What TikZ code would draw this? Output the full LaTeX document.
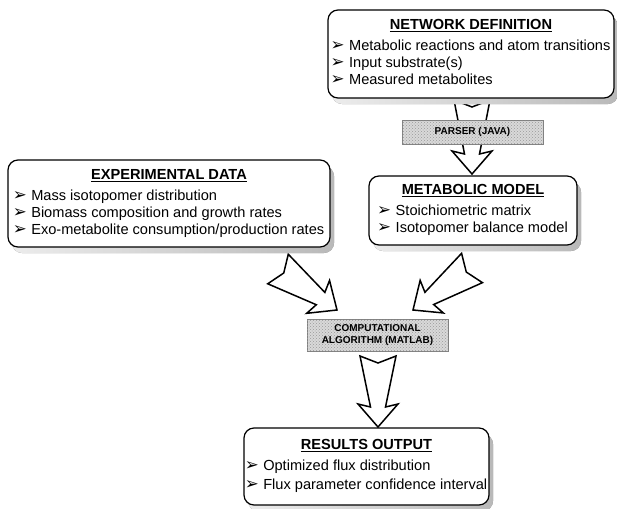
\documentclass[tikz,border=0pt]{standalone}
\usepackage{graphicx}
\usepackage{fontspec}
\setmainfont{Liberation Sans}
\newfontfamily\dingfont{DejaVu Sans}
\usetikzlibrary{calc,shadows,patterns}

\newcommand{\itm}[1]{\makebox[17.5pt][l]{\hspace{-1pt}\raisebox{0pt}{\resizebox{14pt}{!}{\dingfont ➢}}}#1}
\newcommand{\hdr}[1]{\multicolumn{1}{c}{\underline{\textbf{#1}}}\\[4pt]}
% hollow block arrow with notched tail, from #1 (tail) to #2 (tip)
\newcommand{\fatarrow}[2]{%
  \draw[fatarrow] ($(#1)!18pt!90:(#2)$) -- ($(#1)!7pt!(#2)$) -- ($(#1)!18pt!-90:(#2)$)
    -- ($($(#2)!20pt!(#1)$)!7.5pt!-90:(#2)$) -- ($($(#2)!23pt!(#1)$)!20pt!-90:(#2)$)
    -- (#2) -- ($($(#2)!23pt!(#1)$)!20pt!90:(#2)$)
    -- ($($(#2)!20pt!(#1)$)!7.5pt!90:(#2)$) -- cycle;}

\begin{document}
\begin{tikzpicture}[x=1pt,y=-1pt,
        panel/.style={draw, line width=1.2pt, rounded corners=10pt, fill=white,
                      drop shadow={shadow xshift=4pt, shadow yshift=-6pt, opacity=1,
                                   left color=gray!15, right color=gray!55},
                      inner sep=0pt, font=\fontsize{14.6}{17}\selectfont},
        tool/.style={draw=gray, fill=gray!30, inner sep=0pt, align=center,
                     postaction={pattern=crosshatch dots, pattern color=gray!80},
                     font=\bfseries\fontsize{10}{12}\selectfont},
        fatarrow/.style={draw, line width=1.5pt, fill=white, line join=miter}
    ]
    \useasboundingbox (0,0) rectangle (617,508);

    % arrow end points
    \coordinate (net tail) at (472,100);
    \coordinate (net tip) at (472,174);
    \coordinate (exp tail) at (278,269);
    \coordinate (exp tip) at (337,310);
    \coordinate (mod tail) at (472,268);
    \coordinate (mod tip) at (413,310);
    \coordinate (alg tail) at (378,356);
    \coordinate (alg tip) at (378,427);

    \fatarrow{net tail}{net tip}
    \fatarrow{exp tail}{exp tip}
    \fatarrow{mod tail}{mod tip}
    \fatarrow{alg tail}{alg tip}

    % the boxes of the workflow
    \node[panel, minimum width=286, minimum height=88] (network) at (471,54) {%
        \begin{tabular}{@{}l@{}}
        \hdr{NETWORK DEFINITION}
        \itm{Metabolic reactions and atom transitions}\\
        \itm{Input substrate(s)}\\
        \itm{Measured metabolites}
        \end{tabular}};
    \node[tool, minimum width=141, minimum height=24] (parser) at (472.5,132) {PARSER (JAVA)};
    \node[panel, minimum width=208, minimum height=69] (model) at (473,210.5) {%
        \begin{tabular}{@{}l@{}}
        \hdr{METABOLIC MODEL}
        \itm{Stoichiometric matrix}\\
        \itm{Isotopomer balance model}
        \end{tabular}};
    \node[panel, minimum width=322, minimum height=87] (expdata) at (169,203.5) {%
        \begin{tabular}{@{}l@{}}
        \hdr{EXPERIMENTAL DATA}
        \itm{Mass isotopomer distribution}\\
        \itm{Biomass composition and growth rates}\\
        \itm{Exo-metabolite consumption/production rates}
        \end{tabular}};
    \node[tool, minimum width=141, minimum height=32] (algorithm) at (377.5,335)
        {COMPUTATIONAL\\ALGORITHM (MATLAB)};
    \node[panel, minimum width=245, minimum height=77] (results) at (366.5,466.5) {%
        \begin{tabular}{@{}l@{}}
        \hdr{RESULTS OUTPUT}
        \itm{Optimized flux distribution}\\[2pt]
        \itm{Flux parameter confidence interval}
        \end{tabular}};

\end{tikzpicture}
\end{document}
